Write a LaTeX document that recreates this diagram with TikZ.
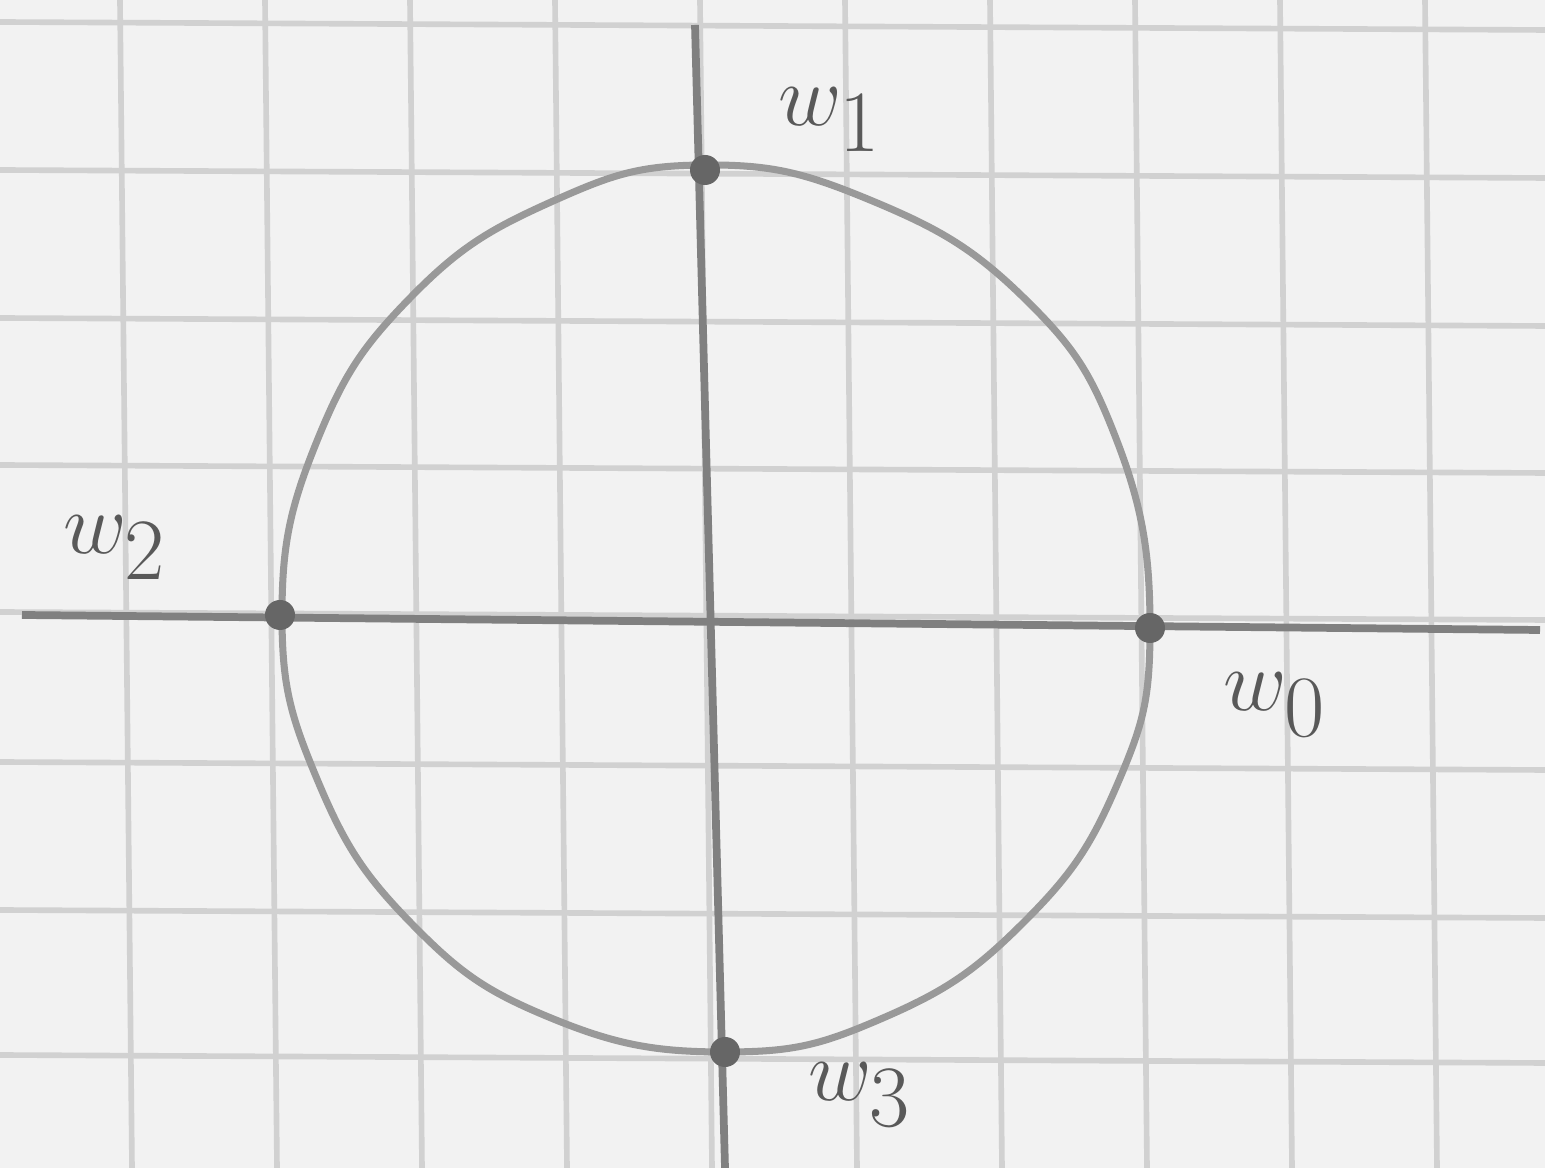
\documentclass[tikz,border=0pt]{standalone}
\begin{document}
\begin{tikzpicture}[x=0.01cm,y=-0.01cm,
  gridline/.style={draw=black!18, line width=1.6pt},
  axis/.style={draw=black!50, line width=2.2pt},
  curve/.style={draw=black!40, line width=2pt},
  dot/.style={circle, fill=black!60, inner sep=0pt, minimum size=0.3cm},
  lbl/.style={text=black!65, font=\fontsize{40}{48}\selectfont}]
\useasboundingbox[fill=black!5] (0,0) rectangle (1545,1168);
% grid
\foreach \x in {120,265,410,555,700,845,990,1135,1280,1425}
  \draw[gridline] (\x,0) -- (\x+12,1168);
\foreach \y in {22,170,318,465,612,762,910,1055}
  \draw[gridline] (0,\y) -- (1545,\y+8);
% axes
\coordinate (xl) at (22,615);
\coordinate (xr) at (1540,630);
\coordinate (yt) at (695,25);
\coordinate (yb) at (725,1168);
\draw[axis] (xl) -- (xr);
\draw[axis] (yt) -- (yb);
% circle
\draw[curve] plot[smooth cycle, tension=0.75] coordinates {
 (1150,628) (1117,441) (1023,297) (870,200) (705,165) (551,202) (411,297)
 (317,441) (282,615) (317,779) (411,923) (551,1018) (725,1052) (883,1018)
 (1023,923) (1117,785)};
% points
\node[dot] (w1) at (705,170) {};
\node[dot] (w2) at (280,615) {};
\node[dot] (w0) at (1150,628) {};
\node[dot] (w3) at (725,1052) {};
% labels
\node[lbl] (l1) at (830,120) {$w_1$};
\node[lbl] (l2) at (115,548) {$w_2$};
\node[lbl] (l0) at (1275,705) {$w_0$};
\node[lbl] (l3) at (860,1095) {$w_3$};
\end{tikzpicture}
\end{document}
